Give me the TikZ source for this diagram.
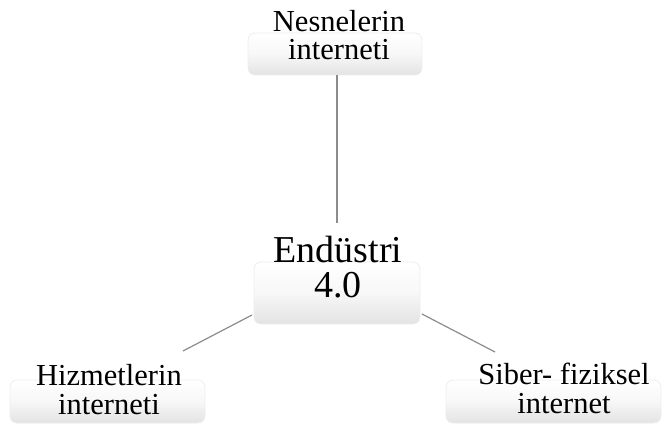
\documentclass[tikz,border=0pt]{standalone}
\usepackage{fontspec}
\setmainfont{Liberation Serif}
\begin{document}
\begin{tikzpicture}[x=1pt,y=-1pt,
  boxbg/.style={rounded corners=7pt, top color=white, bottom color=black!11, middle color=black!3, draw=black!7, line width=0.8pt, inner sep=0pt},
  smalltxt/.style={align=center, inner sep=0pt, anchor=north, font=\fontsize{30.5}{28.5}\selectfont},
  bigtxt/.style={align=center, inner sep=0pt, anchor=north, font=\fontsize{38}{35}\selectfont},
  link/.style={draw=black!45, line width=1.2pt}]
\useasboundingbox (0,0) rectangle (665,425);
% boxes
\node[boxbg, minimum width=174pt, minimum height=42pt] (tbox) at (335,54) {};
\node[boxbg, minimum width=166pt, minimum height=62pt] (cbox) at (337,293) {};
\node[boxbg, minimum width=195pt, minimum height=43pt] (lbox) at (107.5,401.5) {};
\node[boxbg, minimum width=215pt, minimum height=43pt] (rbox) at (553.5,401.5) {};
% texts
\node[smalltxt] (ttxt) at (339,10) {Nesnelerin\\interneti};
\node[bigtxt] (ctxt) at (338,236) {Endüstri\\4.0};
\node[smalltxt] (ltxt) at (109,364.5) {Hizmetlerin\\interneti};
\node[smalltxt] (rtxt) at (564,363) {Siber- fiziksel\\internet};
% connectors
\coordinate (ctop) at (337,223);
\coordinate (cl) at (252,315);
\coordinate (cr) at (422,314);
\coordinate (le) at (183,351);
\coordinate (re) at (495,352);
\draw[link] (tbox.south -| ctop) -- (ctop);
\draw[link] (cl) -- (le);
\draw[link] (cr) -- (re);
\end{tikzpicture}
\end{document}
